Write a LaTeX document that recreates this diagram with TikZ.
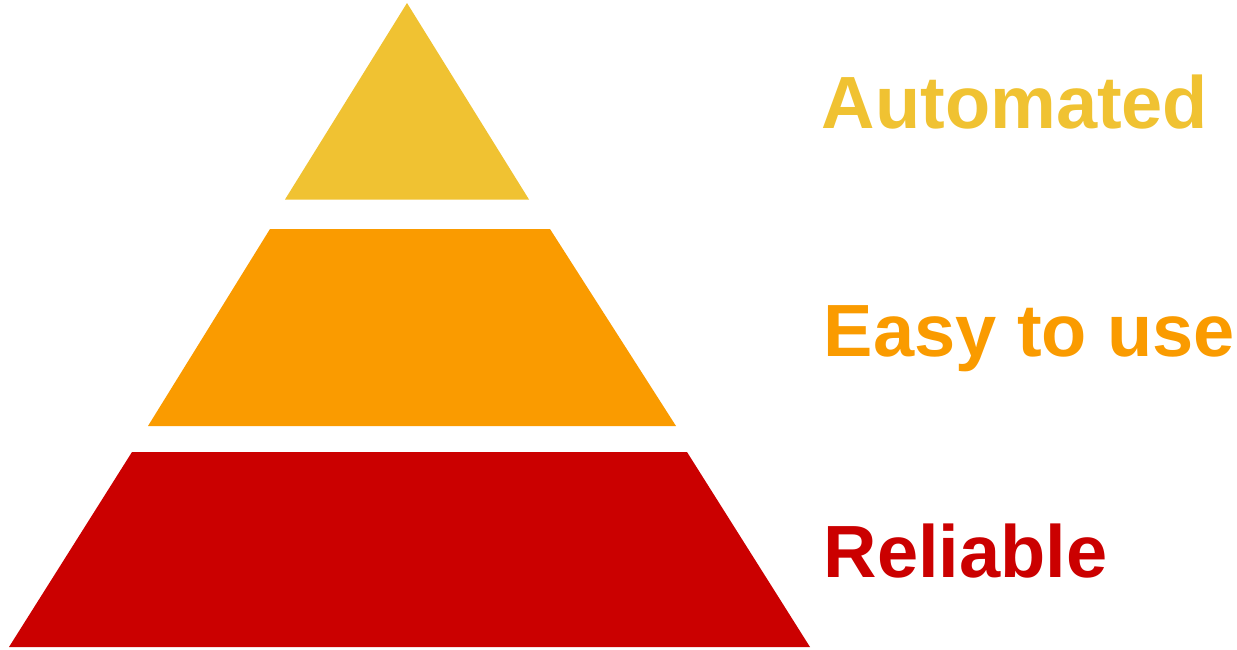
\documentclass[tikz,border=0pt]{standalone}
\usepackage{fontspec}
\setmainfont{Liberation Sans}
\usepackage{tikz}
\tikzset{every picture/.style={line width=0.75pt}}
\definecolor{tierYellow}{RGB}{240,194,50}
\definecolor{tierOrange}{RGB}{250,155,0}
\definecolor{tierRed}{RGB}{203,0,0}
\tikzset{tierlabel/.style={anchor=base west,inner sep=0pt,font=\fontsize{37}{40}\selectfont\bfseries}}

\begin{document}
\begin{tikzpicture}[x=0.5pt,y=0.5pt,yscale=-1]
%set diagram left start at 0, and has height of 649
\useasboundingbox (0,0) rectangle (1237,649);

%Top triangle
\fill [tierYellow] (407,3) -- (529,199.5) -- (285,199.5) -- cycle ;
%Middle trapezoid
\fill [tierOrange] (270,229) -- (550,229) -- (676,426) -- (148,426) -- cycle ;
%Bottom trapezoid
\fill [tierRed] (132,452) -- (687,452) -- (810,647) -- (9,647) -- cycle ;

% Text Node
\node (automated) [tierlabel, text=tierYellow] at (821,128) {Automated};
% Text Node
\node (easy) [tierlabel, text=tierOrange] at (823,356) {Easy to use};
% Text Node
\node (reliable) [tierlabel, text=tierRed] at (823,577) {Reliable};
\end{tikzpicture}
\end{document}
